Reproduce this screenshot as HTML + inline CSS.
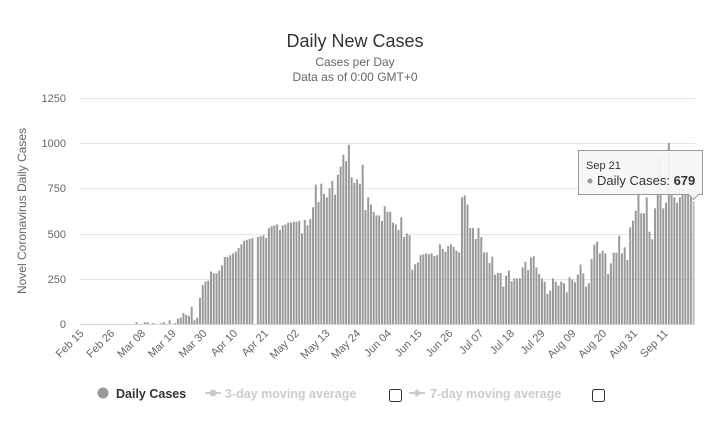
<!DOCTYPE html>
<html><head><meta charset="utf-8"><style>
html,body{margin:0;padding:0;background:#fff;}
body{width:720px;height:438px;overflow:hidden;font-family:"Liberation Sans","DejaVu Sans",sans-serif;}
</style></head><body>
<svg id="s" width="720" height="438" xmlns="http://www.w3.org/2000/svg" font-family="Liberation Sans, DejaVu Sans, sans-serif">
<rect width="720" height="438" fill="#fff"/>
<text x="355" y="47" text-anchor="middle" font-size="18" fill="#333">Daily New Cases</text>
<text x="355" y="66" text-anchor="middle" font-size="12" fill="#666">Cases per Day</text>
<text x="355" y="81" text-anchor="middle" font-size="12" fill="#666">Data as of 0:00 GMT+0</text>
<g stroke="#e6e6e6" stroke-width="1">
<line x1="80" x2="695" y1="98.5" y2="98.5"/><line x1="80" x2="695" y1="143.5" y2="143.5"/>
<line x1="80" x2="695" y1="188.5" y2="188.5"/><line x1="80" x2="695" y1="234.5" y2="234.5"/>
<line x1="80" x2="695" y1="279.5" y2="279.5"/>
</g>
<g font-size="11" fill="#666" text-anchor="end">
<text x="66" y="102">1250</text><text x="66" y="147">1000</text><text x="66" y="192">750</text>
<text x="66" y="238">500</text><text x="66" y="283">250</text><text x="66" y="328">0</text>
</g>
<text transform="translate(26,211) rotate(-90)" text-anchor="middle" font-size="12" fill="#666">Novel Coronavirus Daily Cases</text>
<g id="bars" fill="#999"></g>
<line x1="80" x2="695" y1="324.5" y2="324.5" stroke="#ccd6eb"/>
<g id="xl" font-size="11" fill="#666" text-anchor="end"></g>
<g>
<path d="M578.5,150.5 h124 v44 h-4 l-5,5 l-5,-5 h-110 z" fill="#f7f7f7" fill-opacity="0.95" stroke="#999" stroke-width="1"/>
<text x="586" y="169" font-size="11" fill="#333">Sep 21</text>
<circle cx="590" cy="181" r="2.5" fill="#999"/>
<text x="597" y="185" font-size="13" fill="#333">Daily Cases: <tspan font-weight="bold">679</tspan></text>
</g>
<g>
<circle cx="103" cy="393" r="5.5" fill="#999"/>
<text x="116" y="398" font-size="12.5" font-weight="bold" fill="#333">Daily Cases</text>
<line x1="205" x2="221" y1="393" y2="393" stroke="#ccc" stroke-width="2"/><circle cx="213" cy="393" r="3.5" fill="#ccc"/>
<text x="225" y="398" font-size="12.5" font-weight="bold" fill="#ccc">3-day moving average</text>
<rect x="389.5" y="389.5" width="12" height="12" rx="2" fill="#fff" stroke="#333"/>
<line x1="409" x2="425" y1="393" y2="393" stroke="#ccc" stroke-width="2"/><path d="M417,389 l4,4 l-4,4 l-4,-4z" fill="#ccc"/>
<text x="430" y="398" font-size="12.5" font-weight="bold" fill="#ccc">7-day moving average</text>
<rect x="592.5" y="389.5" width="12" height="12" rx="2" fill="#fff" stroke="#333"/>
</g>
</svg>
<script>
var d=[];for(var i=0;i<20;i++)d.push(0);
d=d.concat([10,0,0,10,10,0,5,0,0,5,10,0,20,0,5,30,35,60,50,45,95,20,35,145,215,235,240,290,280,280,
295,325,370,370,380,390,400,420,440,460,465,470,475,0,480,485,490,475,530,540,545,550,
520,545,550,560,560,565,565,570,500,575,545,580,645,770,675,775,720,700,750,790,
715,825,870,935,900,990,810,780,800,775,880,630,700,660,620,600,
600,570,650,620,620,560,550,520,590,480,500,490,300,330,340,380,385,390,385,390,375,380,440,415,400,430,440,425,405,395,700,710,660,530,530,470,530,480,
395,395,337,372,272,282,282,206,267,295,236,252,252,252,313,344,298,368,374,313,276,252,234,166,184,252,234,212,234,225,175,258,247,230,273,328,280,206,225,359,438,455,390,405,390,276,335,394,394,488,390,424,354,534,571,626,733,611,611,700,510,468,639,924,924,639,670,1000,750,700,670,700,750,720,740,700,679]);
var N=d.length,x0=80,x1=695,w=(x1-x0)/N,s=(324-143)/1000,h='';
for(i=0;i<N;i++){var v=d[i];if(!v)continue;var bh=v*s;h+='<rect x="'+(x0+i*w+0.4).toFixed(2)+'" y="'+(324-bh).toFixed(2)+'" width="'+(w-0.8).toFixed(2)+'" height="'+bh.toFixed(2)+'"'+(i==N-1?' fill="#bbb"':'')+'/>';}
document.getElementById('bars').innerHTML=h;
var L=["Feb 15","Feb 26","Mar 08","Mar 19","Mar 30","Apr 10","Apr 21","May 02","May 13","May 24","Jun 04","Jun 15","Jun 26","Jul 07","Jul 18","Jul 29","Aug 09","Aug 20","Aug 31","Sep 11"],t='';
var dw=(x1-x0)/220;
for(i=0;i<L.length;i++){var x=x0+(i*11+0.5)*dw+3;t+='<text transform="translate('+x.toFixed(1)+',334) rotate(-45)">'+L[i]+'</text>';}
document.getElementById('xl').innerHTML=t;
</script>
</body></html>
